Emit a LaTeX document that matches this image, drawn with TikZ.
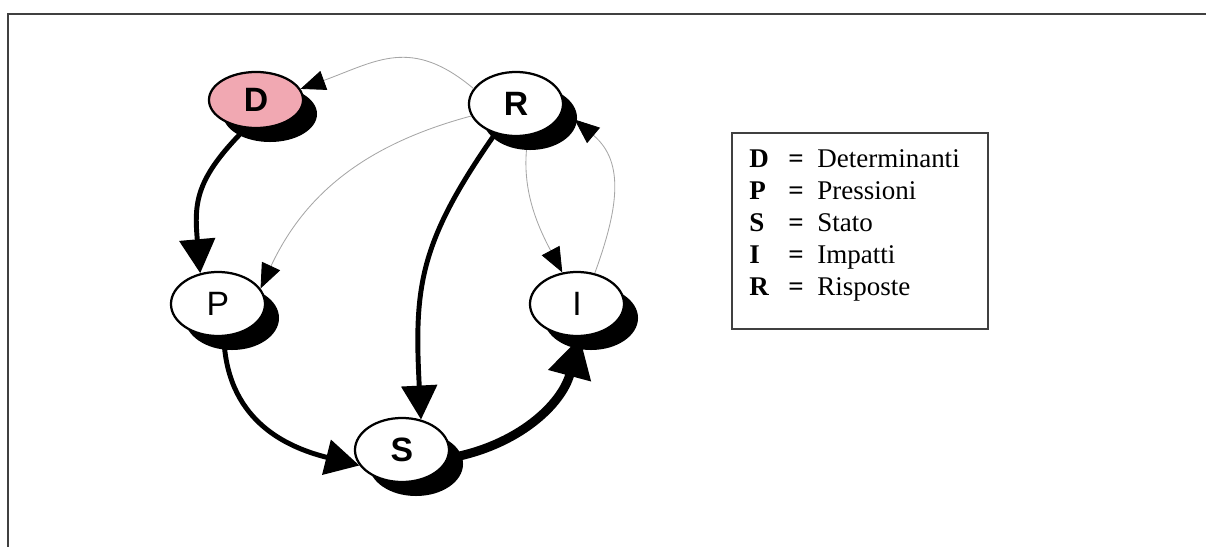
\documentclass[tikz,border=0pt]{standalone}
\usepackage{fontspec}
\setmainfont{Liberation Serif}
\newfontfamily\arial{Liberation Sans}
\usetikzlibrary{shapes.geometric,shadows,arrows.meta}
\definecolor{rosa}{RGB}{241,168,178}
\begin{document}
\begin{tikzpicture}[x=0.025cm,y=0.025cm]
  \tikzstyle{stato}=[ellipse,draw,line width=1.6pt,fill=white,minimum width=2.35cm,minimum height=1.6cm,inner sep=0pt,
    font=\arial\fontsize{24}{28}\selectfont,drop shadow={shadow xshift=0.35cm,shadow yshift=-0.35cm,fill=black,opacity=1}]
  \tikzstyle{forte}=[line width=3.5pt,-{Triangle[length=0.85cm,width=0.88cm]}]
  \tikzstyle{debole}=[line width=0.6pt,gray!70,-{Triangle[length=0.62cm,width=0.5cm,color=black]}]
  \tikzstyle{voce}=[anchor=base west,inner sep=0pt,font=\fontsize{19.2}{23}\selectfont]
  \useasboundingbox (0,0) rectangle (1206,547);
  \draw[line width=1.4pt,black!75] (1206,533) -- (8,533) -- (8,0);
  % ciclo DPSIR
  \node[stato,fill=rosa,minimum height=1.4cm] (D) at (256,447) {\textbf{D}};
  \node[stato] (R) at (516,443) {\textbf{R}};
  \node[stato] (P) at (218,243) {P};
  \node[stato] (I) at (577,243) {I};
  \node[stato] (S) at (402,97) {\textbf{S}};
  \draw[forte] (D.250) to[out=225,in=95,looseness=1.2] (P.120);
  \draw[forte] (P.-80) to[out=-88,in=166,looseness=1.1] (S.200);
  \draw[forte,line width=6.4pt,-{Triangle[length=1cm,width=1.05cm]}] (S.-10) to[out=10,in=-105] (I.-85);
  \draw[forte] (R.235) to[out=-125,in=93,looseness=1.15] (S.58);
  \draw[debole] (R.160) to[out=140,in=20,looseness=1.2] (D.14);
  \draw[debole] (R.195) to[out=195,in=65] (P.20);
  \draw[debole,shorten <=0.35cm] (R.-70) to[out=-95,in=118] (I.115);
  \draw[debole] (I.60) to[out=70,in=-40,looseness=1.1] ([xshift=0.4cm]R.-20);
  % legenda
  \node[draw=black!75,line width=1.1pt,minimum width=6.4cm,minimum height=4.9cm,inner sep=0pt] (legenda) at (860,316) {};
  \foreach \k/\nome [count=\i] in {D/Determinanti,P/Pressioni,S/Stato,I/Impatti,R/Risposte}{
    \node[voce] (k\i) at (749,411-32*\i) {\textbf{\k}};
    \node[voce] (u\i) at (788,411-32*\i) {\textbf{=}};
    \node[voce] (n\i) at (817,411-32*\i) {\nome};
  }
\end{tikzpicture}
\end{document}
